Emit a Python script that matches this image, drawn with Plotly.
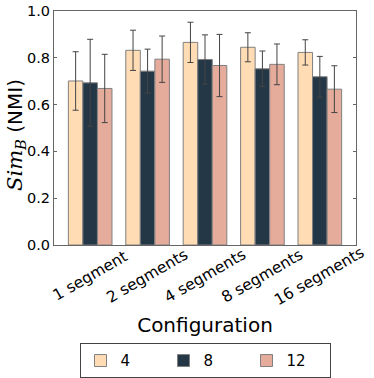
import plotly.graph_objects as go

categories = ["1 segment", "2 segments", "4 segments", "8 segments", "16 segments"]
series_names = ["4", "8", "12"]
vals_4 = [0.701, 0.832, 0.866, 0.845, 0.823]
vals_8 = [0.693, 0.743, 0.793, 0.753, 0.719]
vals_12 = [0.669, 0.794, 0.767, 0.772, 0.666]
err_4 = [0.125, 0.086, 0.086, 0.062, 0.054]
err_8 = [0.186, 0.094, 0.105, 0.076, 0.087]
err_12 = [0.146, 0.099, 0.133, 0.087, 0.100]
y_ticks = [0.0, 0.2, 0.4, 0.6, 0.8, 1.0]

colors = ["#FFDCB4", "#243746", "#E5AB9B"]

fig = go.Figure()
for name, v, e, c in zip(series_names, [vals_4, vals_8, vals_12], [err_4, err_8, err_12], colors):
    fig.add_trace(go.Bar(
        x=list(range(len(categories))), y=v, name=name,
        marker=dict(color=c, line=dict(color="#808080", width=1)),
        error_y=dict(type="data", array=e, color="#444444", thickness=1, width=3),
    ))

# rotated category labels centred on their ticks
for i, cat in enumerate(categories):
    fig.add_annotation(x=i, xref="x", y=-0.134, yref="paper", text=cat,
                       textangle=-30, showarrow=False, xanchor="center", yanchor="middle",
                       font=dict(size=15.5))

# y-axis title
fig.add_annotation(
    x=-0.128, xref="paper", y=0.472, yref="paper", textangle=-90, showarrow=False,
    xanchor="center", yanchor="middle",
    text=("<span style=\"font-family:'DejaVu Serif';font-size:21px\"><i>Sim</i><sub><i>B</i></sub></span>"
          "<span style=\"font-family:'DejaVu Sans';font-size:20px\"> (NMI)</span>"),
    font=dict(size=20),
)

font = "DejaVu Sans"
fig.update_layout(
    width=374, height=378,
    margin=dict(l=54, r=18, t=11, b=133, autoexpand=False),
    paper_bgcolor="white", plot_bgcolor="white",
    barmode="group", bargap=0.24, bargroupgap=0,
    font=dict(family=font, size=14, color="black"),
    showlegend=True,
    legend=dict(orientation="h", x=0.5, xanchor="center", y=-0.42, yanchor="top",
                bordercolor="#444444", borderwidth=1, font=dict(size=15),
                entrywidth=38, entrywidthmode="pixels", itemwidth=30,
                traceorder="normal"),
)
fig.update_xaxes(
    tickvals=list(range(len(categories))), showticklabels=False,
    range=[-0.63, 4.63],
    showline=True, linecolor="#666666", linewidth=1, mirror=True,
    ticks="", showgrid=False, zeroline=False, automargin=False,
    title=dict(text="Configuration", font=dict(size=20), standoff=72),
)
fig.update_yaxes(
    range=[0, 1.0], tickvals=y_ticks, ticktext=[f"{t:.1f}" for t in y_ticks],
    tickfont=dict(size=14.5), automargin=False,
    showline=True, linecolor="#666666", linewidth=1, mirror="ticks",
    ticks="inside", ticklen=3, tickcolor="#666666",
    showgrid=False, zeroline=False,
)

fig.write_html("out.html", config={"displayModeBar": False},
               post_script="document.body.style.margin='0';")
